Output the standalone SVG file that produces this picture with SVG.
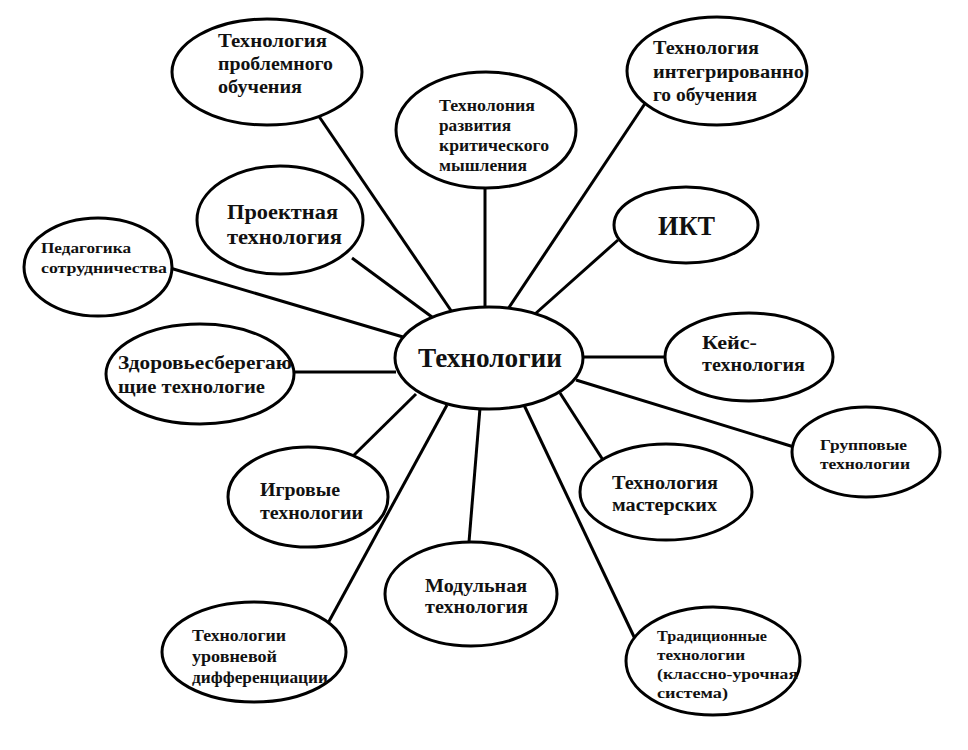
<svg xmlns="http://www.w3.org/2000/svg" width="968" height="750" viewBox="0 0 968 750">
<style>
.n{fill:#fff;stroke:#000;stroke-width:3}
.c line{stroke:#000;stroke-width:3}
.t{fill:#111}
</style>
<rect width="968" height="750" fill="#fff"/>
<g class="c" id="connectors">
<line x1="316" y1="112" x2="452" y2="312"/>
<line x1="485" y1="188" x2="485" y2="308"/>
<line x1="646" y1="102" x2="508" y2="309"/>
<line x1="352" y1="258" x2="432" y2="317"/>
<line x1="170" y1="268" x2="403" y2="337"/>
<line x1="618" y1="240" x2="535" y2="314"/>
<line x1="583" y1="357" x2="666" y2="357"/>
<line x1="293" y1="372" x2="396" y2="372"/>
<line x1="576" y1="380" x2="794" y2="447"/>
<line x1="560" y1="393" x2="603" y2="460"/>
<line x1="416" y1="394" x2="352" y2="457"/>
<line x1="480" y1="408" x2="469" y2="542"/>
<line x1="447" y1="405" x2="327" y2="625"/>
<line x1="524" y1="405" x2="636" y2="641"/>
</g>
<g font-family="Liberation Serif, DejaVu Serif, serif" font-weight="bold">
<g id="center"><ellipse class="n" cx="489" cy="358" rx="94" ry="51"/><text class="t" x="418" y="367" font-size="27" textLength="144" lengthAdjust="spacingAndGlyphs">Технологии</text></g>
<g id="problem" font-size="18"><ellipse class="n" cx="267" cy="72" rx="95" ry="53"/>
<text class="t" x="218" y="47" textLength="109" lengthAdjust="spacingAndGlyphs">Технология</text>
<text class="t" x="218" y="70" textLength="115" lengthAdjust="spacingAndGlyphs">проблемного</text>
<text class="t" x="218" y="93" textLength="84" lengthAdjust="spacingAndGlyphs">обучения</text></g>
<g id="critical" font-size="16"><ellipse class="n" cx="486" cy="130" rx="90" ry="58"/>
<text class="t" x="439" y="111" textLength="96" lengthAdjust="spacingAndGlyphs">Технолония</text>
<text class="t" x="439" y="131" textLength="72" lengthAdjust="spacingAndGlyphs">развития</text>
<text class="t" x="439" y="151" textLength="110" lengthAdjust="spacingAndGlyphs">критического</text>
<text class="t" x="439" y="171" textLength="88" lengthAdjust="spacingAndGlyphs">мышления</text></g>
<g id="integr" font-size="18"><ellipse class="n" cx="717" cy="71" rx="90" ry="54"/>
<text class="t" x="653" y="54" textLength="106" lengthAdjust="spacingAndGlyphs">Технология</text>
<text class="t" x="653" y="78" textLength="151" lengthAdjust="spacingAndGlyphs">интегрированно</text>
<text class="t" x="653" y="101" textLength="104" lengthAdjust="spacingAndGlyphs">го обучения</text></g>
<g id="project" font-size="22"><ellipse class="n" cx="280" cy="220" rx="83" ry="54"/>
<text class="t" x="227" y="219" textLength="111" lengthAdjust="spacingAndGlyphs">Проектная</text>
<text class="t" x="227" y="244" textLength="115" lengthAdjust="spacingAndGlyphs">технология</text></g>
<g id="pedagog" font-size="15"><ellipse class="n" cx="98" cy="267" rx="74" ry="49"/>
<text class="t" x="41" y="253" textLength="90" lengthAdjust="spacingAndGlyphs">Педагогика</text>
<text class="t" x="41" y="273" textLength="126" lengthAdjust="spacingAndGlyphs">сотрудничества</text></g>
<g id="ikt"><ellipse class="n" cx="686" cy="225" rx="72" ry="38"/><text class="t" x="658" y="235" font-size="28" textLength="57" lengthAdjust="spacingAndGlyphs">ИКТ</text></g>
<g id="case" font-size="18"><ellipse class="n" cx="749" cy="357" rx="84" ry="44"/>
<text class="t" x="702" y="349" textLength="55" lengthAdjust="spacingAndGlyphs">Кейс-</text>
<text class="t" x="702" y="371" textLength="103" lengthAdjust="spacingAndGlyphs">технология</text></g>
<g id="health" font-size="18"><ellipse class="n" cx="200" cy="374" rx="94" ry="50"/>
<text class="t" x="118" y="369" textLength="174" lengthAdjust="spacingAndGlyphs">Здоровьесберегаю</text>
<text class="t" x="118" y="393" textLength="147" lengthAdjust="spacingAndGlyphs">щие технологие</text></g>
<g id="group" font-size="15"><ellipse class="n" cx="866" cy="452" rx="74" ry="45"/>
<text class="t" x="820" y="450" textLength="87" lengthAdjust="spacingAndGlyphs">Групповые</text>
<text class="t" x="820" y="469" textLength="90" lengthAdjust="spacingAndGlyphs">технологии</text></g>
<g id="master" font-size="18"><ellipse class="n" cx="666" cy="492" rx="86" ry="48"/>
<text class="t" x="612" y="489" textLength="106" lengthAdjust="spacingAndGlyphs">Технология</text>
<text class="t" x="612" y="511" textLength="105" lengthAdjust="spacingAndGlyphs">мастерских</text></g>
<g id="game" font-size="18"><ellipse class="n" cx="308" cy="497" rx="80" ry="50"/>
<text class="t" x="260" y="496" textLength="80" lengthAdjust="spacingAndGlyphs">Игровые</text>
<text class="t" x="260" y="519" textLength="103" lengthAdjust="spacingAndGlyphs">технологии</text></g>
<g id="module" font-size="18"><ellipse class="n" cx="471" cy="594" rx="86" ry="52"/>
<text class="t" x="425" y="592" textLength="102" lengthAdjust="spacingAndGlyphs">Модульная</text>
<text class="t" x="425" y="613" textLength="103" lengthAdjust="spacingAndGlyphs">технология</text></g>
<g id="level" font-size="17"><ellipse class="n" cx="254" cy="652" rx="92" ry="50"/>
<text class="t" x="192" y="641" textLength="94" lengthAdjust="spacingAndGlyphs">Технологии</text>
<text class="t" x="192" y="662" textLength="85" lengthAdjust="spacingAndGlyphs">уровневой</text>
<text class="t" x="192" y="683" textLength="136" lengthAdjust="spacingAndGlyphs">дифференциации</text></g>
<g id="trad" font-size="15"><ellipse class="n" cx="713" cy="661" rx="87" ry="54"/>
<text class="t" x="657" y="641" textLength="110" lengthAdjust="spacingAndGlyphs">Традиционные</text>
<text class="t" x="657" y="660" textLength="88" lengthAdjust="spacingAndGlyphs">технологии</text>
<text class="t" x="657" y="679" textLength="141" lengthAdjust="spacingAndGlyphs">(классно-урочная</text>
<text class="t" x="657" y="698" textLength="71" lengthAdjust="spacingAndGlyphs">система)</text></g>
</g>
</svg>
